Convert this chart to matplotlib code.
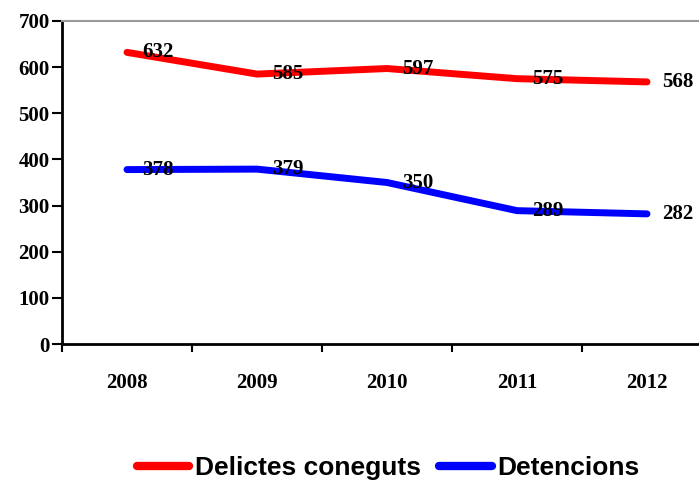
import matplotlib
matplotlib.use("Agg")
import matplotlib.pyplot as plt
import numpy as np

years = ["2008", "2009", "2010", "2011", "2012"]
delictes = [632, 585, 597, 575, 568]
detencions = [378, 379, 350, 289, 282]

fig = plt.figure(figsize=(6.99, 4.95), dpi=100)
# plot area runs past the right edge of the picture, as in the original
ax = fig.add_axes([62 / 699, 1 - 344 / 495, 650 / 699, 323 / 495])

x = np.arange(len(years))
ax.plot(x, delictes, color="#ff0000", lw=5, solid_capstyle="round",
        solid_joinstyle="round", label="Delictes coneguts", zorder=3)
ax.plot(x, detencions, color="#0000ff", lw=5, solid_capstyle="round",
        solid_joinstyle="round", label="Detencions", zorder=3)

serif = {"family": "Liberation Serif", "weight": "bold", "size": 15}
for series in (delictes, detencions):
    for xi, v in zip(x, series):
        ax.annotate(str(v), (xi, v), xytext=(11, 0), textcoords="offset points",
                    ha="left", va="center", zorder=4, **serif)

ax.set_xlim(-0.5, len(years) - 0.5)
ax.set_ylim(0, 700)
ax.set_yticks(range(0, 701, 100))
ax.set_yticklabels([str(v) for v in range(0, 701, 100)], fontdict=serif)
ax.set_xticks(x)
ax.set_xticklabels(years, fontdict=serif)
ax.set_xticks(np.arange(-0.5, len(years), 1), minor=True)
ax.tick_params(axis="x", which="major", length=0, pad=21)
ax.tick_params(axis="x", which="minor", length=6, width=1.5, direction="out")
ax.tick_params(axis="y", length=7, width=1.5, direction="out", pad=2)

ax.spines["left"].set_linewidth(2)
ax.spines["bottom"].set_linewidth(2)
ax.spines["top"].set_color("#999999")
ax.spines["top"].set_linewidth(1.5)
ax.spines["right"].set_visible(False)

leg = fig.legend(loc="center", bbox_to_anchor=(388 / 699, 1 - 468 / 495),
                 ncol=2, frameon=False, handlelength=2.0, handletextpad=0.2,
                 columnspacing=0.7,
                 prop={"family": "Liberation Sans", "weight": "bold", "size": 19})
for line in leg.get_lines():
    line.set_linewidth(6)

fig.savefig("out.png", dpi=100)
